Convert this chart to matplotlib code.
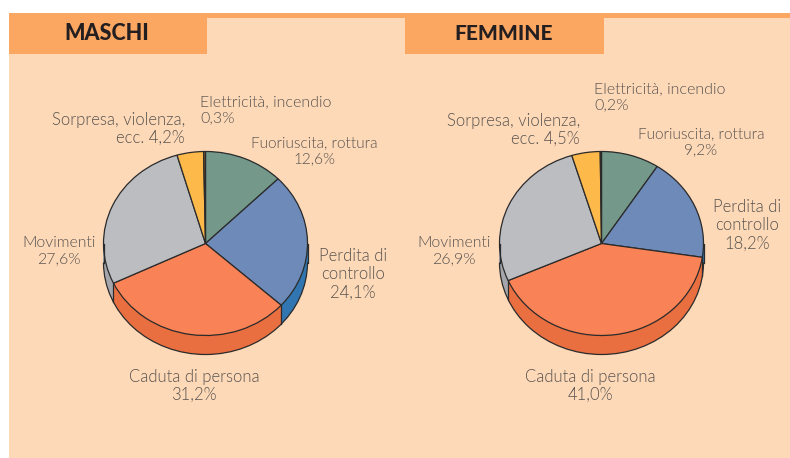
import numpy as np
import matplotlib
matplotlib.use("Agg")
import matplotlib.pyplot as plt
from matplotlib.patches import Arc, Rectangle

# percentages, clockwise from the top
categories = ["Fuoriuscita", "Perdita", "Caduta", "Movimenti", "Sorpresa", "Elettricita"]
maschi = [12.6, 24.1, 31.2, 27.6, 4.2, 0.3]
femmine = [9.2, 18.2, 41.0, 26.9, 4.5, 0.2]

top_colors = ["#74998a", "#6d8ab8", "#f98356", "#bcbdc1", "#fdb94a", "#8a5a2a"]
side_colors = ["#5f8575", "#3176b0", "#e96e40", "#a4a6ab", "#e09c30", "#6e4520"]

bg = "#fdd9b8"
tab = "#fba661"
line = "#2b2b2b"
txt = "#57524e"
W, H = 790, 458
FONT = "Lato"

plt.rcParams["font.family"] = FONT

fig = plt.figure(figsize=(W / 100, H / 100), dpi=100, facecolor="white")

# page background, in pixel coordinates
page = fig.add_axes([0, 0, 1, 1])
page.set_xlim(0, W)
page.set_ylim(H, 0)
page.axis("off")
page.add_patch(Rectangle((9, 13), W - 9, H - 13, color=bg, lw=0))
page.add_patch(Rectangle((9, 13), W - 9, 5, color=tab, lw=0))
page.add_patch(Rectangle((9, 13), 198, 41, color=tab, lw=0))
page.add_patch(Rectangle((405, 13), 199, 41, color=tab, lw=0))


def draw_pie(cx, cy, values):
    rx, ry, depth = 102, 92, 19
    ax = fig.add_axes([(cx - rx) / W, (H - cy - ry) / H, 2 * rx / W, 2 * ry / H])
    d = depth / ry
    # side wall: stacked copies of the pie
    for off in np.linspace(d, 0, 30):
        ax.pie(values, colors=side_colors, startangle=90, counterclock=False,
               center=(0, -off), wedgeprops={"lw": 0, "clip_on": False})
    ax.pie(values, colors=top_colors, startangle=90, counterclock=False,
           wedgeprops={"lw": 0.9, "edgecolor": line, "clip_on": False})
    ax.set_aspect("auto")
    ax.set_xlim(-1, 1)
    ax.set_ylim(-1, 1)
    ax.add_patch(Arc((0, -d), 2, 2, theta1=180, theta2=360, color=line, lw=0.9, clip_on=False))
    ax.plot([-1, -1], [0, -d], color=line, lw=0.9, clip_on=False)
    ax.plot([1, 1], [0, -d], color=line, lw=0.9, clip_on=False)
    # wall edges where the slices meet the front rim
    for c in np.cumsum(values):
        a = 2 * np.pi * c / 100
        if np.cos(a) < 0:
            x, y = np.sin(a), np.cos(a)
            ax.plot([x, x], [y, y - d], color=line, lw=0.9, clip_on=False)


draw_pie(205.5, 243.5, maschi)
draw_pie(601.5, 243.5, femmine)


def label(x, y, s, ha="center", size=12):
    page.text(x, y, s, ha=ha, va="center", fontsize=size, color=txt, weight=300,
              linespacing=1.18)


page.text(107, 33, "MASCHI", ha="center", va="center", fontsize=15.5, weight="black", color="#231f20")
page.text(504, 33, "FEMMINE", ha="center", va="center", fontsize=15, weight="black", color="#231f20")

label(200, 110, "Elettricità, incendio\n0,3%", ha="left", size=11.5)
label(185, 129, "Sorpresa, violenza,\necc. 4,2%", ha="right")
label(314, 151, "Fuoriuscita, rottura\n12,6%", size=11.1)
label(353, 274, "Perdita di\ncontrollo\n24,1%")
label(194, 386, "Caduta di persona\n31,2%")
label(59, 251, "Movimenti\n27,6%", size=11.4)

label(594, 97, "Elettricità, incendio\n0,2%", ha="left", size=11.5)
label(580, 130, "Sorpresa, violenza,\necc. 4,5%", ha="right")
label(701, 142, "Fuoriuscita, rottura\n9,2%", size=11.1)
label(747, 225, "Perdita di\ncontrollo\n18,2%")
label(590, 386, "Caduta di persona\n41,0%")
label(454, 251, "Movimenti\n26,9%", size=11.4)

fig.savefig("out.png", dpi=100)
